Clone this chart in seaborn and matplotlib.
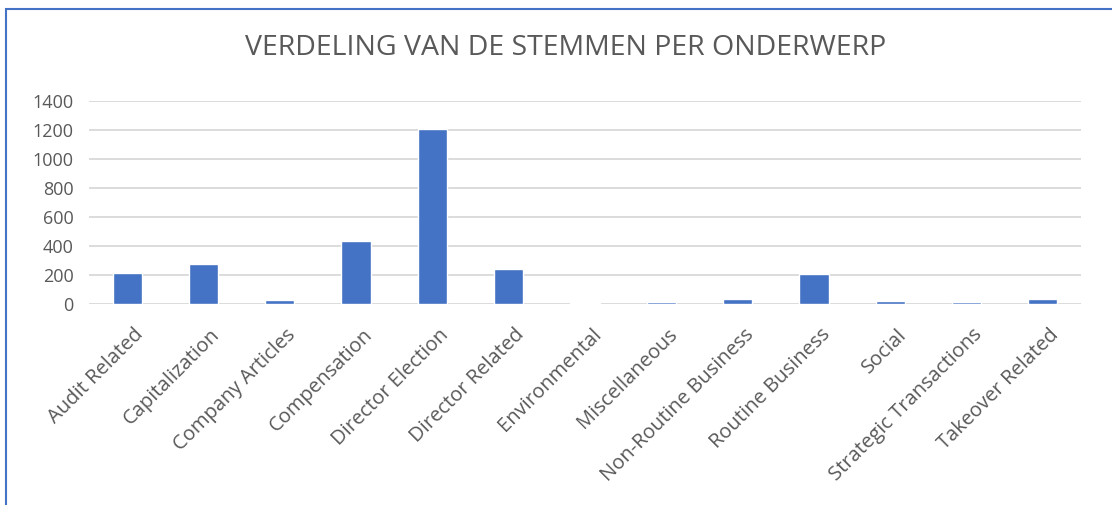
import seaborn as sns
import matplotlib.pyplot as plt
import matplotlib.transforms as mtransforms
from matplotlib.patches import Rectangle
import pandas as pd

# Categories and vote counts
categories = ["Audit Related", "Capitalization", "Company Articles", "Compensation",
              "Director Election", "Director Related", "Environmental", "Miscellaneous",
              "Non-Routine Business", "Routine Business", "Social",
              "Strategic Transactions", "Takeover Related"]
votes = [216, 278, 25, 436, 1205, 239, 10, 16, 32, 209, 23, 16, 37]
y_ticks = [0, 200, 400, 600, 800, 1000, 1200, 1400]

df = pd.DataFrame({"Onderwerp": categories, "Stemmen": votes})

sns.set_style("white")
plt.rcParams["font.family"] = ["Open Sans", "DejaVu Sans"]

fig = plt.figure(figsize=(11.12, 5.05), dpi=100)
ax = fig.add_axes([89 / 1112, 1 - 304 / 505, (1081 - 89) / 1112, (304 - 101) / 505])

sns.barplot(data=df, x="Onderwerp", y="Stemmen", color="#4472C4", width=0.384,
            saturation=1, ax=ax, zorder=3)

ax.set_ylim(0, 1400)
ax.set_yticks(y_ticks)
ax.yaxis.grid(True, color="#D9D9D9", linewidth=1.3, zorder=0)
ax.set_axisbelow(True)
sns.despine(ax=ax, left=True, bottom=True)
ax.set_xlabel("")
ax.set_ylabel("")
ax.tick_params(axis="both", length=0, colors="#595959")
ax.tick_params(axis="y", pad=11, labelsize=13)
ax.tick_params(axis="x", pad=15, labelsize=14.5)
shift = mtransforms.ScaledTranslation(6 / 100, 0, fig.dpi_scale_trans)
for lbl in ax.get_xticklabels():
    lbl.set_rotation(45)
    lbl.set_ha("right")
    lbl.set_rotation_mode("anchor")
    lbl.set_transform(lbl.get_transform() + shift)

fig.text(566 / 1112, 1 - 48 / 505, "VERDELING VAN DE STEMMEN PER ONDERWERP",
         ha="center", va="center", fontsize=20.5, color="#595959")

# chart border
fig.patches.append(Rectangle((6 / 1112, -0.1), 1.2, 1 - 9 / 505 + 0.1,
                             transform=fig.transFigure, fill=False,
                             edgecolor="#4472C4", linewidth=1.5))

fig.savefig("out.png", dpi=100)
